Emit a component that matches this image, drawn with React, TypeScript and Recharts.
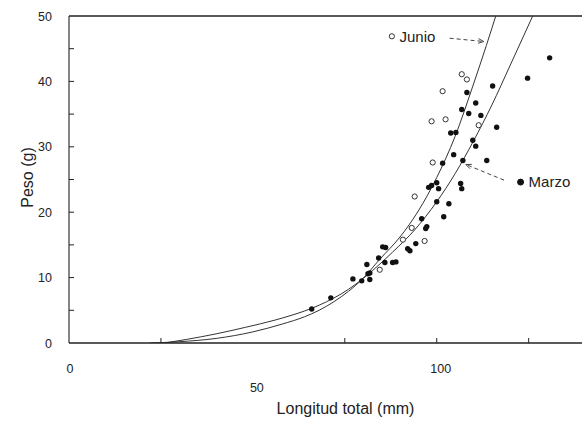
import React from 'react';
import { ComposedChart, Line, Scatter, XAxis, YAxis, ReferenceLine, ReferenceDot, Label } from 'recharts';

// Marzo (filled dots): length mm / weight g
const marzoL = [130.7, 124.7, 115.2, 108.2, 110.6, 106.8, 108.7, 112.0, 116.3, 103.8, 105.2, 109.8, 110.6, 104.6, 113.6, 107.1, 101.6, 100.0, 97.8, 98.6, 100.5, 106.5, 106.8, 100.0, 103.3, 101.9, 95.9, 97.3, 97.0, 94.3, 92.7, 92.1, 88.9, 88.0, 85.3, 86.1, 84.2, 85.9, 81.0, 81.8, 81.3, 81.8, 79.6, 77.2, 71.2, 66.0];
const marzoW = [43.6, 40.5, 39.3, 38.3, 36.7, 35.7, 35.1, 34.8, 33.0, 32.1, 32.2, 31.0, 30.1, 28.8, 27.9, 27.9, 27.5, 24.5, 23.8, 24.1, 23.6, 24.4, 23.6, 21.6, 21.3, 19.3, 19.0, 17.8, 17.5, 15.2, 14.1, 14.4, 12.4, 12.3, 14.7, 14.6, 13.0, 12.3, 12.0, 10.7, 10.6, 9.7, 9.5, 9.8, 6.9, 5.2];

// Junio (open circles)
const junioL = [106.8, 108.2, 101.6, 98.6, 102.4, 111.4, 98.9, 94.0, 93.2, 96.7, 84.5, 90.8];
const junioW = [41.1, 40.3, 38.5, 33.9, 34.2, 33.3, 27.6, 22.4, 17.6, 15.6, 11.2, 15.8];

// fitted curves
const junioCurveL = [22, 30, 40, 50, 58, 64, 68, 72, 76, 80, 84.5, 90, 95, 100, 105, 110, 113.5, 116.5];
const junioCurveW = [0, 0.2, 0.7, 1.7, 2.9, 4.0, 5.0, 6.3, 7.9, 9.9, 12.8, 16.2, 20.2, 25.3, 31.6, 39.6, 45.5, 50.8];
const marzoCurveL = [26, 32, 40, 48, 56, 62, 66, 70, 74, 78, 84, 88, 94, 100, 105, 110, 115, 120, 126.5];
const marzoCurveW = [0, 0.55, 1.4, 2.4, 3.5, 4.5, 5.3, 6.3, 7.5, 9.0, 11.8, 13.9, 17.3, 21.6, 25.9, 30.9, 36.4, 42.5, 50.5];

const xTicks = [0, 25, 50, 75, 100, 125];
const xLabels = [0, 50, 100];
const yTicks = [0, 5, 10, 15, 20, 25, 30, 35, 40, 45, 50];

const zip = (xs: number[], ys: number[]) => xs.map((L, i) => ({ L, W: ys[i] }));
const marzoPts = zip(marzoL, marzoW);
const junioPts = zip(junioL, junioW);
const junioCurve = zip(junioCurveL, junioCurveW);
const marzoCurve = zip(marzoCurveL, marzoCurveW);

const FONT = '"Liberation Sans", Arial, sans-serif';
const INK = '#222';

const XTick = (p: any) => {
	const v = p.payload.value;
	return (
		<g>
			{v !== 0 && v !== 50 && <line x1={p.x} y1={p.y} x2={p.x} y2={p.y - 5} stroke={INK} />}
			{xLabels.includes(v) && (
				<text x={p.x + (v === 0 ? 1 : 4)} y={p.y + (v === 50 ? 49 : 30)} textAnchor="middle" fontSize={12.5} fontFamily={FONT} fill={INK}>{v}</text>
			)}
		</g>
	);
};

const YTick = (p: any) => {
	const v = p.payload.value;
	return (
		<g>
			{v !== 0 && v !== 50 && <line x1={p.x} y1={p.y} x2={p.x + 5} y2={p.y} stroke={INK} />}
			{v % 10 === 0 && (
				<text x={p.x - 17} y={p.y + 4.5} textAnchor="end" fontSize={12.5} fontFamily={FONT} fill={INK}>{v}</text>
			)}
		</g>
	);
};

const DashArrow = (p: any) => {
	const { x1, y1, x2, y2 } = p;
	const a = Math.atan2(y2 - y1, x2 - x1);
	const s = 6;
	const hx1 = x2 - s * Math.cos(a - 0.4), hy1 = y2 - s * Math.sin(a - 0.4);
	const hx2 = x2 - s * Math.cos(a + 0.4), hy2 = y2 - s * Math.sin(a + 0.4);
	return (
		<g>
			<line x1={x1} y1={y1} x2={x2} y2={y2} stroke="#444" strokeWidth={1} strokeDasharray="4 3" />
			<path d={`M${hx1},${hy1} L${x2},${y2} L${hx2},${hy2}`} fill="none" stroke="#444" strokeWidth={1} />
		</g>
	);
};

const openDot = (p: any) => <circle cx={p.cx} cy={p.cy} r={2.6} fill="#fff" stroke="#333" strokeWidth={1} />;
const fillDot = (p: any) => <circle cx={p.cx} cy={p.cy} r={2.7} fill="#111" />;

const YTitle = (p: any) => {
	const vb = p.viewBox;
	const cx = 29, cy = vb.y + vb.height / 2 - 2;
	return (
		<text x={cx} y={cy} transform={`rotate(-90, ${cx}, ${cy})`} textAnchor="middle" dominantBaseline="middle" fontSize={16} fontFamily={FONT} fill={INK}>Peso (g)</text>
	);
};

export default function App() {
	return (
		<div style={{ position: 'absolute', left: 0, top: 0, background: '#fff' }}>
			<ComposedChart width={583} height={426} margin={{ top: 16, right: 1, bottom: 0, left: 0 }}>
				<XAxis type="number" dataKey="L" domain={[0, 139.5]} ticks={xTicks} tick={XTick} tickSize={0} tickMargin={0} height={83} allowDataOverflow axisLine={{ stroke: INK, strokeWidth: 1.3 }} tickLine={false}>
					<Label value="Longitud total (mm)" position="insideBottom" offset={12} dx={20} fontSize={16} fontFamily={FONT} fill={INK} />
				</XAxis>
				<YAxis type="number" dataKey="W" domain={[0, 50]} ticks={yTicks} tick={YTick} tickSize={0} tickMargin={0} width={69} allowDataOverflow axisLine={{ stroke: INK, strokeWidth: 1.1 }} tickLine={false} interval={0}>
					<Label content={YTitle} />
				</YAxis>
				<ReferenceLine y={50} stroke={INK} strokeWidth={1.3} />
				<Line data={junioCurve} dataKey="W" type="monotone" stroke="#333" strokeWidth={1} dot={false} isAnimationActive={false} />
				<Line data={marzoCurve} dataKey="W" type="monotone" stroke="#333" strokeWidth={1} dot={false} isAnimationActive={false} />
				<Scatter data={marzoPts} dataKey="W" shape={fillDot} isAnimationActive={false} />
				<Scatter data={junioPts} dataKey="W" shape={openDot} isAnimationActive={false} />
				<ReferenceLine segment={[{ x: 103.5, y: 46.6 }, { x: 112.8, y: 46.1 }]} shape={DashArrow} />
				<ReferenceLine segment={[{ x: 118.3, y: 24.9 }, { x: 107.9, y: 27.3 }]} shape={DashArrow} />
				<ReferenceDot x={87.8} y={46.9} r={2.6} fill="#fff" stroke="#333" strokeWidth={1}
					label={{ value: 'Junio', position: 'right', offset: 5, fontSize: 15, fontFamily: FONT, fill: INK }} />
				<ReferenceDot x={122.8} y={24.6} r={3} fill="#111" stroke="#111"
					label={{ value: 'Marzo', position: 'right', offset: 5, fontSize: 15, fontFamily: FONT, fill: INK }} />
			</ComposedChart>
		</div>
	);
}
